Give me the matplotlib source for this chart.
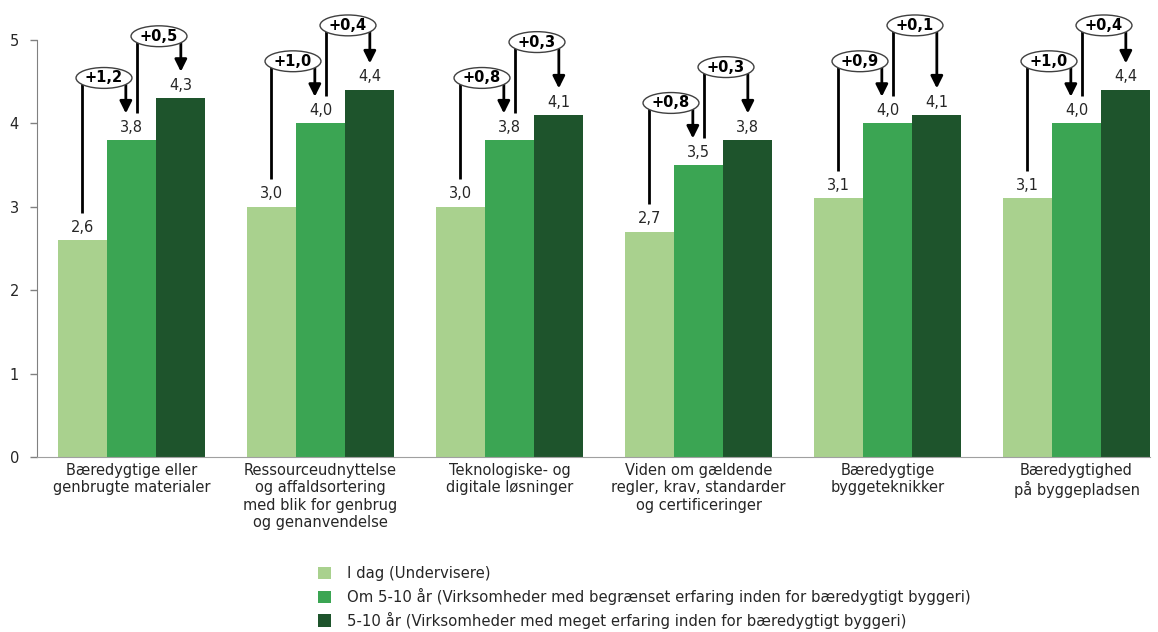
import matplotlib
matplotlib.use("Agg")
import matplotlib.pyplot as plt
from matplotlib.patches import Ellipse
import numpy as np

plt.rcParams["font.family"] = ["DejaVu Sans"]

categories = [
    "Bæredygtige eller\ngenbrugte materialer",
    "Ressourceudnyttelse\nog affaldsortering\nmed blik for genbrug\nog genanvendelse",
    "Teknologiske- og\ndigitale løsninger",
    "Viden om gældende\nregler, krav, standarder\nog certificeringer",
    "Bæredygtige\nbyggeteknikker",
    "Bæredygtighed\npå byggepladsen",
]
series_names = [
    "I dag (Undervisere)",
    "Om 5-10 år (Virksomheder med begrænset erfaring inden for bæredygtigt byggeri)",
    "5-10 år (Virksomheder med meget erfaring inden for bæredygtigt byggeri)",
]
today = [2.6, 3.0, 3.0, 2.7, 3.1, 3.1]
limited = [3.8, 4.0, 3.8, 3.5, 4.0, 4.0]
experienced = [4.3, 4.4, 4.1, 3.8, 4.1, 4.4]
gain_first = ["+1,2", "+1,0", "+0,8", "+0,8", "+0,9", "+1,0"]
gain_second = ["+0,5", "+0,4", "+0,3", "+0,3", "+0,1", "+0,4"]
yticks = [0, 1, 2, 3, 4, 5]

colors = ["#a9d18e", "#3ba553", "#1e542c"]
text_color = "#262626"

W, H = 1158, 632
fig = plt.figure(figsize=(W / 100, H / 100), dpi=100)
ax = fig.add_axes([37 / W, 1 - 457 / H, 1134 / W, 417 / H])

x = np.arange(len(categories))
bw = 0.261
series = [today, limited, experienced]
for i, (vals, col, name) in enumerate(zip(series, colors, series_names)):
    xs = x + (i - 1) * bw
    ax.bar(xs, vals, width=bw, color=col, label=name, zorder=2)
    for xi, v in zip(xs, vals):
        ax.annotate(f"{v:.1f}".replace(".", ","), (xi, v), xytext=(0, 4),
                    textcoords="offset points", ha="center", va="bottom",
                    fontsize=10.5, color=text_color, zorder=3)

ax.set_xlim(-0.5, len(categories) - 0.5)
ax.set_ylim(0, 5)
ax.set_yticks(yticks)
ax.set_yticklabels([str(t) for t in yticks], fontsize=10.5, color=text_color)
ax.tick_params(axis="y", length=5, width=1, color="#808080", pad=8)
ax.set_xticks([])
for s in ["top", "right"]:
    ax.spines[s].set_visible(False)
ax.spines["left"].set_color("#808080")
ax.spines["bottom"].set_color("#a0a0a0")
ax.spines["bottom"].set_bounds(-0.5, x[-1] + 1.5 * bw)

for xi, lab in zip(x, categories):
    ax.annotate(lab, (xi, 0), xytext=(0, -4), textcoords="offset points",
                ha="center", va="top", fontsize=10.5, color=text_color,
                linespacing=1.22, annotation_clip=False)

# change brackets between consecutive bars
start_gap = 0.33
tip_gap = 0.32
rise = 0.745
stack = 0.43
shift = 0.03
ell_w, ell_h = 0.296, 0.25


def bracket(x0, y0, x1, y1, level, label):
    ax.plot([x0, x0, x1], [y0 + start_gap, level, level], color="black",
            lw=2, solid_capstyle="butt", clip_on=False, zorder=4)
    ax.annotate("", xy=(x1, y1 + tip_gap), xytext=(x1, level),
                arrowprops=dict(arrowstyle="-|>,head_length=0.6,head_width=0.3",
                                lw=2, color="black", shrinkA=0, shrinkB=0,
                                mutation_scale=12),
                annotation_clip=False, zorder=4)
    xc = (x0 + x1) / 2
    ax.add_patch(Ellipse((xc, level), ell_w, ell_h, facecolor="white",
                         edgecolor="#404040", lw=1, clip_on=False, zorder=5))
    ax.text(xc, level, label, ha="center", va="center", fontsize=10.5,
            fontweight="bold", color="black", zorder=6, clip_on=False)


for i in range(len(categories)):
    a, b, c = today[i], limited[i], experienced[i]
    level1 = b + rise
    level2 = max(c + rise, level1 + stack)
    bracket(x[i] - bw, a, x[i] - shift, b, level1, gain_first[i])
    bracket(x[i] + shift, b, x[i] + bw, c, level2, gain_second[i])

fig.legend(loc="upper left", bbox_to_anchor=(318 / W, 1 - 566 / H),
           frameon=False, fontsize=10.7, handlelength=0.88, handleheight=0.88,
           handletextpad=1.05, labelspacing=0.46, borderpad=0, borderaxespad=0,
           labelcolor=text_color)

fig.savefig("out.png", dpi=100)
